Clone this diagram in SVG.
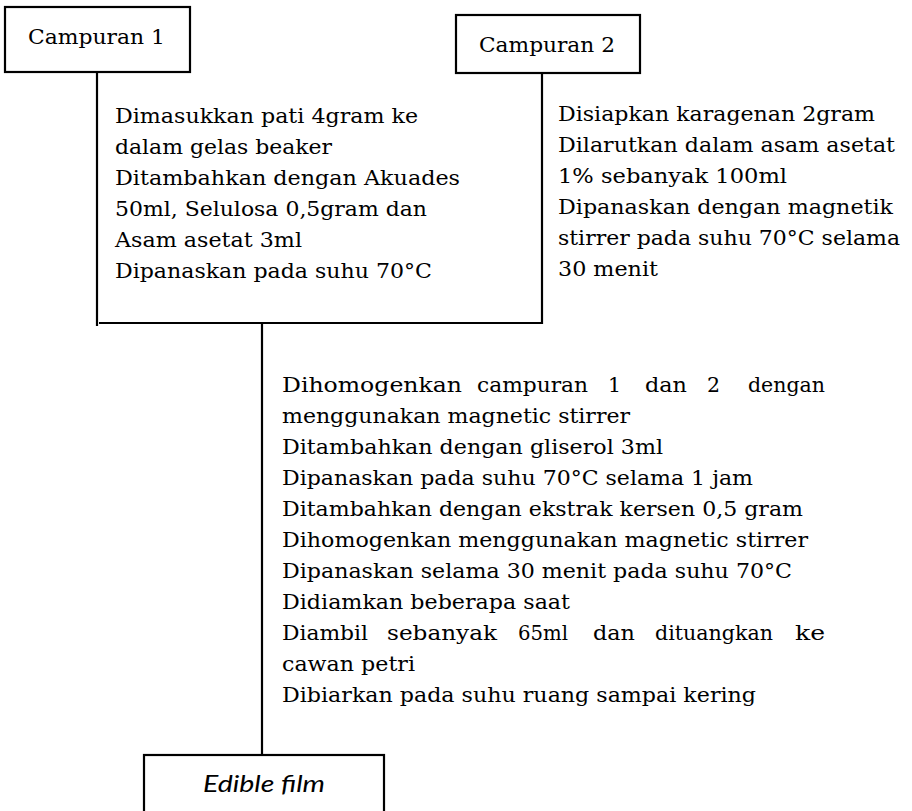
<svg xmlns="http://www.w3.org/2000/svg" width="912" height="811" viewBox="0 0 912 811">
<style>
.box{fill:#fff;stroke:#000;stroke-width:2.2}
.ln{stroke:#000;stroke-width:2.2;fill:none}
.t{font-family:"DejaVu Serif","Liberation Serif",serif;font-size:20.5px;fill:#000}
.lab{font-family:"DejaVu Serif","Liberation Serif",serif;font-size:21px;fill:#000}
.it{font-family:Lato,"Liberation Sans",sans-serif;font-style:italic;font-size:24px;fill:#000}
</style>
<rect width="912" height="811" fill="#fff"/>
<g id="connectors">
<line class="ln" x1="97" y1="72" x2="97" y2="326"/>
<line class="ln" x1="99" y1="323" x2="543" y2="323"/>
<line class="ln" x1="542" y1="73" x2="542" y2="324"/>
<line class="ln" x1="262" y1="323" x2="262" y2="755"/>
</g>
<g id="campuran1">
<rect class="box" x="5" y="7" width="185" height="65"/>
<text class="lab" x="28" y="44" textLength="137" lengthAdjust="spacingAndGlyphs">Campuran 1</text>
</g>
<g id="campuran2">
<rect class="box" x="456" y="15" width="184" height="58"/>
<text class="lab" x="479" y="52" textLength="136" lengthAdjust="spacingAndGlyphs">Campuran 2</text>
</g>
<g id="step1" class="t">
<text x="115" y="123" textLength="303" lengthAdjust="spacingAndGlyphs">Dimasukkan pati 4gram ke</text>
<text x="115" y="154" textLength="217" lengthAdjust="spacingAndGlyphs">dalam gelas beaker</text>
<text x="115" y="185" textLength="345" lengthAdjust="spacingAndGlyphs">Ditambahkan dengan Akuades</text>
<text x="115" y="216" textLength="312" lengthAdjust="spacingAndGlyphs">50ml, Selulosa 0,5gram dan</text>
<text x="115" y="247" textLength="187" lengthAdjust="spacingAndGlyphs">Asam asetat 3ml</text>
<text x="115" y="278" textLength="317" lengthAdjust="spacingAndGlyphs">Dipanaskan pada suhu 70°C</text>
</g>
<g id="step2" class="t">
<text x="558" y="121" textLength="317" lengthAdjust="spacingAndGlyphs">Disiapkan karagenan 2gram</text>
<text x="558" y="152" textLength="337" lengthAdjust="spacingAndGlyphs">Dilarutkan dalam asam asetat</text>
<text x="558" y="183" textLength="229" lengthAdjust="spacingAndGlyphs">1% sebanyak 100ml</text>
<text x="558" y="214" textLength="335" lengthAdjust="spacingAndGlyphs">Dipanaskan dengan magnetik</text>
<text x="558" y="245" textLength="342" lengthAdjust="spacingAndGlyphs">stirrer pada suhu 70°C selama</text>
<text x="558" y="276" textLength="100" lengthAdjust="spacingAndGlyphs">30 menit</text>
</g>
<g id="step3" class="t">
<text x="282" y="392" textLength="180" lengthAdjust="spacingAndGlyphs">Dihomogenkan</text>
<text x="477" y="392" textLength="111" lengthAdjust="spacingAndGlyphs">campuran</text>
<text x="608" y="392">1</text>
<text x="645" y="392" textLength="42" lengthAdjust="spacingAndGlyphs">dan</text>
<text x="707" y="392">2</text>
<text x="748" y="392" textLength="77" lengthAdjust="spacingAndGlyphs">dengan</text>
<text x="282" y="423" textLength="348" lengthAdjust="spacingAndGlyphs">menggunakan magnetic stirrer</text>
<text x="282" y="454" textLength="381" lengthAdjust="spacingAndGlyphs">Ditambahkan dengan gliserol 3ml</text>
<text x="282" y="485" textLength="471" lengthAdjust="spacingAndGlyphs">Dipanaskan pada suhu 70°C selama 1 jam</text>
<text x="282" y="516" textLength="521" lengthAdjust="spacingAndGlyphs">Ditambahkan dengan ekstrak kersen 0,5 gram</text>
<text x="282" y="547" textLength="526" lengthAdjust="spacingAndGlyphs">Dihomogenkan menggunakan magnetic stirrer</text>
<text x="282" y="578" textLength="510" lengthAdjust="spacingAndGlyphs">Dipanaskan selama 30 menit pada suhu 70°C</text>
<text x="282" y="609" textLength="288" lengthAdjust="spacingAndGlyphs">Didiamkan beberapa saat</text>
<text x="282" y="640" textLength="86" lengthAdjust="spacingAndGlyphs">Diambil</text>
<text x="387" y="640" textLength="110" lengthAdjust="spacingAndGlyphs">sebanyak</text>
<text x="518" y="640" textLength="50" lengthAdjust="spacingAndGlyphs">65ml</text>
<text x="593" y="640" textLength="42" lengthAdjust="spacingAndGlyphs">dan</text>
<text x="655" y="640" textLength="118" lengthAdjust="spacingAndGlyphs">dituangkan</text>
<text x="795" y="640" textLength="30" lengthAdjust="spacingAndGlyphs">ke</text>
<text x="282" y="671" textLength="133" lengthAdjust="spacingAndGlyphs">cawan petri</text>
<text x="282" y="702" textLength="474" lengthAdjust="spacingAndGlyphs">Dibiarkan pada suhu ruang sampai kering</text>
</g>
<g id="edible-film">
<rect class="box" x="144" y="755" width="240" height="80"/>
<text class="it" x="203" y="792" textLength="122" lengthAdjust="spacingAndGlyphs">Edible film</text>
</g>
</svg>
